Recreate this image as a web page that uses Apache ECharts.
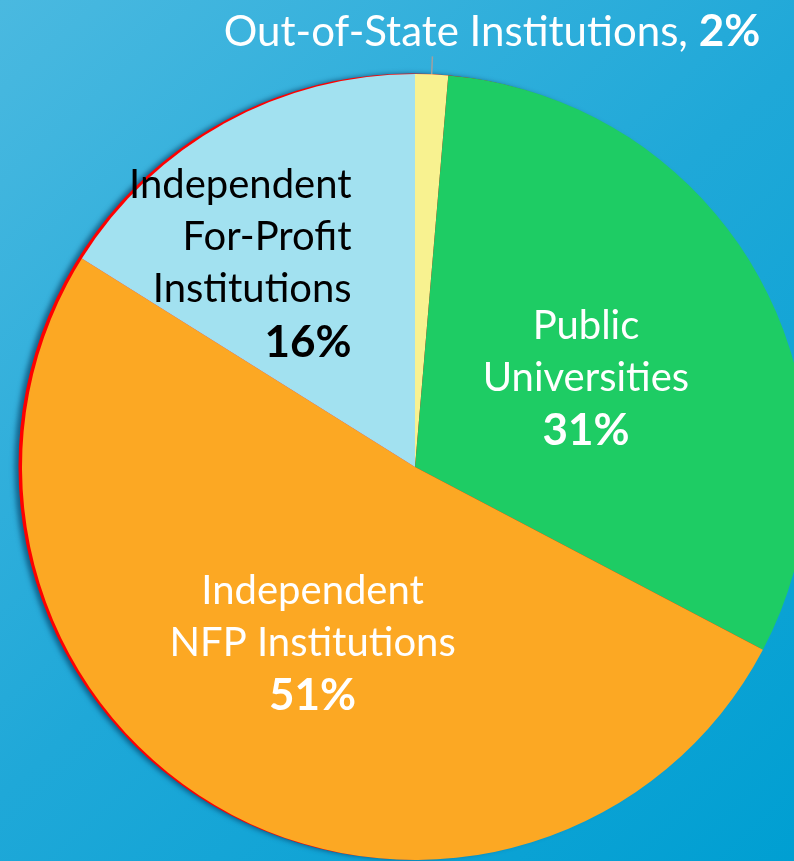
<!DOCTYPE html>
<html><head><meta charset="utf-8">
<script src="https://cdn.jsdelivr.net/npm/echarts@6/dist/echarts.min.js"></script>
<style>html,body{margin:0;padding:0;}#c{width:794px;height:861px;}</style>
</head><body><div id="c"></div>
<script>
const categories = ['Out-of-State Institutions', 'Public Universities', 'Independent NFP Institutions', 'Independent For-Profit Institutions'];
const labelLines = [['Out-of-State Institutions'], ['Public', 'Universities'], ['Independent', 'NFP Institutions'], ['Independent', 'For-Profit', 'Institutions']];
const shares = [1.35, 31.35, 51.2, 16.1];
const pctLabels = [2, 31, 51, 16];
const colors = ['#f8f290', '#1ecc64', '#fca823', '#a2e1f0'];
const textColors = ['#ffffff', '#ffffff', '#ffffff', '#000000'];

const FONT = 'Lato';
const chart = echarts.init(document.getElementById('c'));

const data = categories.map((name, i) => {
  const item = { name: name, value: shares[i], itemStyle: { color: colors[i] } };
  if (i === 0) {
    item.label = { show: true, position: 'outside', formatter: ' ', fontSize: 1 };
    item.labelLine = { show: true, length: 18, length2: 0, lineStyle: { color: '#a0a0a0', width: 1.5 } };
  } else {
    const al = i === 3 ? 'right' : 'center';
    const txt = labelLines[i].map(s => '{t|' + s + '}').join('\n') + '\n{b|' + pctLabels[i] + '%}';
    const lbl = {
      show: true, position: 'inside',
      formatter: txt,
      color: textColors[i], fontFamily: FONT, fontSize: 40, lineHeight: 52,
      rich: {
        t: { fontSize: 40, lineHeight: 52, color: textColors[i], fontFamily: FONT, align: al },
        b: { fontWeight: 'bold', fontSize: 44, lineHeight: 54, color: textColors[i], fontFamily: FONT, align: al }
      }
    };
    if (i === 1) { lbl.offset = [-4, 8]; }
    if (i === 2) { lbl.offset = [-3, 4]; }
    if (i === 3) { lbl.offset = [-78, -28]; }
    item.label = lbl;
    item.labelLine = { show: false };
  }
  return item;
});

chart.setOption({
  backgroundColor: {
    type: 'linear', x: 0, y: 0, x2: 1, y2: 1,
    colorStops: [
      { offset: 0, color: '#4ab9e0' },
      { offset: 0.5, color: '#1fa8d8' },
      { offset: 1, color: '#009fd2' }
    ]
  },
  title: {
    text: categories[0] + ', {b|' + pctLabels[0] + '%}',
    left: 487, top: 5, textAlign: 'center',
    textStyle: {
      color: '#ffffff', fontFamily: FONT, fontWeight: 'normal', fontSize: 42,
      rich: { b: { color: '#ffffff', fontFamily: FONT, fontWeight: 'bold', fontSize: 44 } }
    }
  },
  series: [
    {
      type: 'pie', silent: true, z: 1,
      center: [411.5, 466.5], radius: 393,
      label: { show: false }, labelLine: { show: false },
      itemStyle: { color: '#ff0000', shadowBlur: 5, shadowOffsetX: -4, shadowOffsetY: 0, shadowColor: 'rgba(0,50,90,0.6)' },
      data: [{ value: 1, name: 'edge' }]
    },
    {
      type: 'pie', z: 2,
      center: [415, 467], radius: 393,
      startAngle: 90, clockwise: true,
      avoidLabelOverlap: false,
      data: data
    }
  ]
});
</script></body></html>
